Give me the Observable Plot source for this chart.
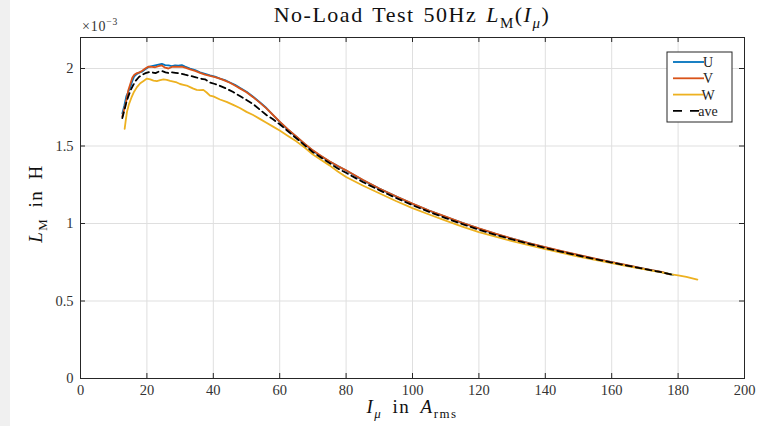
<!DOCTYPE html>
<html><head><meta charset="utf-8">
<script src="https://cdn.jsdelivr.net/npm/d3@7"></script>
<script src="https://cdn.jsdelivr.net/npm/@observablehq/plot@0.6"></script>
<style>body{margin:0;background:#fff;} #chart{width:774px;height:426px;}</style>
</head><body><div id="chart"></div>
<script>
// ---- data (L in units of 1e-3 H) ----
const xTicks = [0,20,40,60,80,100,120,140,160,180,200];
const yTicks = [0,0.5,1,1.5,2];
const seriesNames = ["U","V","W","ave"];
const seriesColors = ["#0072BD","#D95319","#EDB120","#000000"];

const xU = [12.6,13.2,13.8,14.4,15.0,15.6,16.2,17.0,17.8,18.6,19.5,20.5,21.5,22.5,23.5,24.5,25.5,26.5,27.5,28.5,29.5,30.5,31.5,33,34.5,36,37.5,39,40.5,42,43.5,45,46.5,48,50,52,54,56,58,60,62.5,65,67.5,70,72.5,75,77.5,80,85,90,95,100,105,110,115,120,125,130,135,140,145,150,155,160,165,170,175,178.5];
const yU = [1.71,1.76,1.82,1.85,1.88,1.92,1.95,1.965,1.975,1.98,1.995,2.01,2.015,2.02,2.025,2.03,2.022,2.02,2.015,2.02,2.018,2.022,2.012,2.0,1.99,1.975,1.965,1.955,1.948,1.935,1.925,1.91,1.895,1.875,1.85,1.818,1.782,1.745,1.70,1.655,1.605,1.56,1.513,1.47,1.433,1.40,1.37,1.342,1.28,1.225,1.175,1.127,1.083,1.043,1.004,0.967,0.933,0.902,0.873,0.846,0.82,0.796,0.772,0.750,0.728,0.707,0.687,0.669];

const xV = [12.6,13.2,13.8,14.4,15.0,15.6,16.2,17.0,17.8,18.6,19.5,20.5,21.5,22.5,23.5,24.5,25.5,26.5,27.5,28.5,29.5,30.5,31.5,33,34.5,36,37.5,39,40.5,42,43.5,45,46.5,48,50,52,54,56,58,60,62.5,65,67.5,70,72.5,75,77.5,80,85,90,95,100,105,110,115,120,125,130,135,140,145,150,155,160,165,170,175,177.5];
const yV = [1.69,1.74,1.79,1.86,1.90,1.94,1.96,1.97,1.975,1.985,2.0,2.012,2.01,2.008,2.015,2.02,2.005,2.0,2.01,2.012,2.01,2.012,2.005,1.995,1.985,1.972,1.96,1.952,1.945,1.935,1.922,1.908,1.89,1.872,1.847,1.815,1.78,1.743,1.70,1.657,1.607,1.562,1.515,1.472,1.435,1.402,1.371,1.343,1.282,1.226,1.176,1.128,1.084,1.044,1.005,0.968,0.934,0.903,0.874,0.847,0.821,0.797,0.773,0.751,0.729,0.708,0.688,0.672];

const xW = [13.3,13.6,14.0,14.6,15.3,16.0,17.0,18.0,19.0,20.0,21.0,22.0,23.0,24.0,25.0,26.0,27.0,28.0,29.0,30.0,31.0,32.0,33.0,34.0,35.0,36.0,37.0,38.0,39.0,40,42,44,46,48,50,52,54,56,58,60,62.5,65,67.5,70,72.5,75,77.5,80,85,90,95,100,105,110,115,120,125,130,135,140,145,150,155,160,165,170,175,178,180,182.5,185.8];
const yW = [1.61,1.66,1.72,1.77,1.81,1.845,1.88,1.905,1.92,1.935,1.93,1.922,1.918,1.925,1.93,1.927,1.92,1.915,1.91,1.90,1.895,1.89,1.88,1.87,1.862,1.86,1.862,1.845,1.825,1.82,1.80,1.785,1.765,1.745,1.72,1.70,1.675,1.65,1.625,1.60,1.565,1.53,1.49,1.445,1.41,1.375,1.335,1.30,1.245,1.195,1.145,1.099,1.058,1.018,0.98,0.945,0.915,0.886,0.86,0.835,0.81,0.787,0.766,0.745,0.724,0.704,0.685,0.672,0.665,0.655,0.638];

const xAve = [12.6,13.2,13.8,14.4,15.1,15.8,16.6,17.6,18.6,19.6,20.6,21.6,22.6,23.6,24.6,25.6,26.6,27.6,28.6,30,31.5,33,34.5,36,37.5,39,40.5,42,44,46,48,50,52,54,56,58,60,62.5,65,67.5,70,72.5,75,77.5,80,85,90,95,100,105,110,115,120,125,130,135,140,145,150,155,160,165,170,175,178.3];
const yAve = [1.68,1.73,1.78,1.82,1.86,1.89,1.92,1.945,1.96,1.97,1.977,1.975,1.97,1.98,1.983,1.975,1.97,1.975,1.972,1.968,1.96,1.953,1.945,1.935,1.93,1.91,1.90,1.888,1.87,1.848,1.822,1.797,1.77,1.735,1.70,1.672,1.64,1.595,1.55,1.505,1.46,1.425,1.39,1.355,1.327,1.268,1.215,1.165,1.118,1.075,1.035,0.996,0.96,0.927,0.897,0.869,0.842,0.817,0.793,0.77,0.748,0.727,0.706,0.686,0.669];

// ---- build table ----
const allX = [xU,xV,xW,xAve], allY = [yU,yV,yW,yAve];
const rows = [];
seriesNames.forEach((s,i)=>allX[i].forEach((x,j)=>rows.push({s, x, y: allY[i][j]})));
const solidRows = rows.filter(d=>d.s!=="ave");
const aveRows = rows.filter(d=>d.s==="ave");

// ---- layout ----
const W=774, H=426, mL=80, mR=30, mT=37, mB=48;
const plotH = H-mT-mB, plotW = W-mL-mR;
const font = "'Liberation Serif','Times New Roman',serif";
const axisColor = "#262626";
const tickLen = 5;

const chart = Plot.plot({
  width: W, height: H, marginLeft: mL, marginRight: mR, marginTop: mT, marginBottom: mB,
  style: {fontFamily: font, fontSize: "14px", background: "white", color: axisColor, overflow: "visible"},
  x: {domain: [0,200], ticks: xTicks, label: null},
  y: {domain: [0,2.2], ticks: yTicks, label: null},
  color: {domain: seriesNames, range: seriesColors},
  marks: [
    Plot.gridX(xTicks, {stroke: "#dfdfdf", strokeOpacity: 1}),
    Plot.gridY(yTicks, {stroke: "#dfdfdf", strokeOpacity: 1}),
    Plot.line(solidRows, {x: "x", y: "y", z: "s", stroke: "s", strokeWidth: 1.8}),
    Plot.line(aveRows, {x: "x", y: "y", stroke: "#000", strokeWidth: 1.8, strokeDasharray: "6,4"}),
    Plot.tickX(xTicks, {x: d=>d, insetTop: plotH - tickLen, stroke: axisColor}),
    Plot.tickX(xTicks, {x: d=>d, insetBottom: plotH - tickLen, stroke: axisColor}),
    Plot.tickY(yTicks, {y: d=>d, insetRight: plotW - tickLen, stroke: axisColor}),
    Plot.tickY(yTicks, {y: d=>d, insetLeft: plotW - tickLen, stroke: axisColor}),
    Plot.axisX(xTicks, {tickSize: 0, tickPadding: 6, fontSize: 14.5, fill: "#333", tickFormat: d=>String(d)}),
    Plot.axisY(yTicks, {tickSize: 0, tickPadding: 7, fontSize: 14.5, fill: "#333", tickFormat: d=>String(d)}),
    Plot.frame({stroke: axisColor, strokeWidth: 1})
  ]
});
document.getElementById("chart").appendChild(chart);

// ---- annotations ----
const svg = d3.select(chart);
svg.selectAll("text").style("font-size", "14.5px").style("font-family", font);
svg.insert("rect", ":first-child").attr("x",0).attr("y",0).attr("width",10).attr("height",H).attr("fill","#f0f0f0");

function rich(parent, parts, size, anchor, ls, ws) {
  const t = parent.append("text").attr("text-anchor", anchor).attr("font-family", font)
    .style("font-size", size + "px").attr("fill", "#111")
    .style("letter-spacing", (ls||0) + "px").style("word-spacing", (ws||0) + "px");
  let shift = 0;
  parts.forEach(p => {
    const sp = t.append("tspan").text(p.t);
    if (p.i) sp.attr("font-style", "italic");
    const target = p.sub ? size*0.28 : p.sup ? -size*0.42 : 0;
    if (p.sub || p.sup) sp.style("font-size", (size*0.68) + "px");
    if (target !== shift) { sp.attr("dy", target - shift); shift = target; }
  });
  return t;
}

// title
rich(svg.append("g").attr("transform", `translate(${mL + plotW/2},22)`),
  [{t:"No-Load Test 50Hz "},{t:"L",i:true},{t:"M",sub:true},{t:"("},{t:"I",i:true},{t:"μ",i:true,sub:true},{t:")"}], 22, "middle", 1.5, 2);

// exponent
rich(svg.append("g").attr("transform", `translate(${mL+2},31)`),
  [{t:"×10"},{t:"−3",sup:true}], 14, "start", 0.8, 0).attr("fill","#333");

// x label
rich(svg.append("g").attr("transform", `translate(${mL + plotW/2},413)`),
  [{t:"I",i:true},{t:"μ",i:true,sub:true},{t:" in "},{t:"A",i:true},{t:"rms",sub:true}], 19, "middle", 1.5, 4);

// y label
rich(svg.append("g").attr("transform", `translate(42,${mT + plotH/2 - 4}) rotate(-90)`),
  [{t:"L",i:true},{t:"M",sub:true},{t:" in H"}], 19, "middle", 1.5, 4);

// legend
const lg = svg.append("g").attr("transform", "translate(667,52)");
lg.append("rect").attr("width",65).attr("height",70).attr("fill","white").attr("stroke",axisColor).attr("stroke-width",1);
seriesNames.forEach((s,i)=>{
  const yy = 10 + i*16.3;
  lg.append("line").attr("x1",6).attr("x2",37).attr("y1",yy).attr("y2",yy)
    .attr("stroke", seriesColors[i]).attr("stroke-width",1.8)
    .attr("stroke-dasharray", s==="ave" ? "9,8" : null);
  lg.append("text").attr("x",41).attr("y",yy+5).attr("font-family",font).style("font-size","14px")
    .attr("fill","#222").text(s);
});
</script>
</body></html>
